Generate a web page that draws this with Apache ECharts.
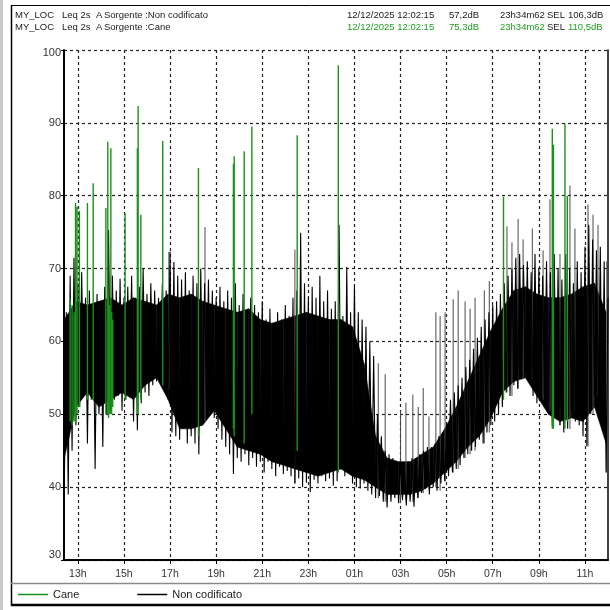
<!DOCTYPE html>
<html>
<head>
<meta charset="utf-8">
<script src="https://cdn.jsdelivr.net/npm/echarts@6/dist/echarts.min.js"></script>
<style>
  html, body { margin: 0; padding: 0; background: #fff; }
  #chart { width: 610px; height: 610px; }
</style>
</head>
<body>
<div id="chart"></div>
<script>
// Leq 2s sound level, 11/12/2025 12:25 -> 12/12/2025 12:00, dB(A)

// x axis: hours of the day (values past 24 belong to the next day)
const hourTicks = [13, 15, 17, 19, 21, 23, 25, 27, 29, 31, 33, 35];
const dbMin = 30, dbMax = 100, dbStep = 10;

// "Non codificato": min/max of the 2 s samples, one pair per 10-minute block
const binStart = '12:25';
const binMinutes = 10;
const nonCodLo = [
  41, 39, 45, 48.5, 51, 52.5, 46, 52, 42.5, 50,
  45.5, 50, 50.5, 52, 52.5, 50.5, 52, 53, 49, 47.8,
  51.5, 53, 52.5, 54, 54.5, 55, 54.5, 53.5, 47.5, 47,
  46.5, 48, 46, 47, 46, 44.5, 49, 50.5, 50, 49.5,
  48, 46.5, 45.5, 44.5, 41.8, 44, 43.5, 44.5, 43, 44,
  42.8, 43.5, 42, 43.5, 42.5, 41.5, 42.8, 41.8, 42.2, 41.5,
  40.5, 41.2, 40, 40.6, 39.3, 41, 40.5, 41.5, 40.8, 41.2,
  40.2, 40.8, 42.5, 41.5, 42, 40.5, 40, 39.8, 40.5, 39.5,
  39, 38.5, 38.8, 38, 37.2, 38, 38.5, 37.8, 38.2, 37.5,
  38, 37.3, 38.5, 39.2, 39.8, 39, 40, 39.5, 40.5, 40.8,
  41.5, 42, 42.5, 43, 44, 44.5, 45, 45.5, 46.5, 46,
  47.5, 48.5, 49, 50, 51, 53, 52.5, 54, 53.5, 55,
  55.8, 54.5, 52.5, 51.5, 52, 51, 50.5, 48.5, 49.5, 48.5,
  47.5, 48, 50.5, 49, 48.5, 47, 45.6, 50, 52.5, 51,
  48.5, 42
];
const nonCodHi = [
  64, 69, 71.5, 68, 69.5, 66, 67, 65, 66.5, 64.5,
  67.5, 75.3, 69, 67, 68.6, 66, 67.5, 69, 66, 67.5,
  70, 66.5, 68, 67, 66, 68, 67, 72.3, 70.9, 69,
  68.5, 69.5, 67, 69, 68, 70, 68, 68.5, 67, 66,
  67.5, 65.5, 67, 66, 68, 65, 66.5, 64, 66, 65,
  64, 65.5, 63, 64.5, 62.5, 64, 63, 65, 63.5, 66,
  67, 74.9, 68, 66, 67.5, 66, 69, 65.5, 67, 64.5,
  65.5, 76, 63.5, 70.2, 64, 67.7, 64, 63, 62, 60,
  58, 50, 47, 45, 44.5, 44, 43.5, 43.5, 43, 43.5,
  44, 44, 44.5, 45, 45.5, 45.5, 46, 47, 47.5, 48.5,
  52, 53, 54, 55, 56.5, 57.5, 59, 60.5, 62, 63,
  64, 65, 65.5, 66.5, 68, 69, 70, 71.5, 72, 70.5,
  71, 69.5, 72, 70, 69, 71, 69.5, 72, 70, 68.5,
  72, 70, 68, 71, 69.5, 73, 76, 74, 72.5, 73,
  71, 66
];

// dense core of the trace, one pair per 30-minute block
const coreStart = '12:25';
const coreMinutes = 30;
const nonCodCoreLo = [
  44, 51, 53, 51, 52, 53, 52, 54, 55, 52,
  48, 48, 48.5, 50.5, 48, 45.5, 45, 44.5, 43.5, 43,
  42.5, 42, 41.5, 42, 42.5, 41.5, 41, 40, 39, 39,
  39, 39.5, 40.5, 42, 43.5, 45.5, 47, 49.5, 53, 54.5,
  55, 52.5, 50, 49, 49.5, 49, 51, 46
];
const nonCodCoreHi = [
  63, 65.5, 65, 65.5, 66, 65, 66, 65.5, 65, 66.5,
  66, 66.5, 65.5, 65, 64.5, 64, 64.5, 63, 62.5, 63,
  63.5, 64, 63.5, 63, 63, 62, 57, 47, 44, 43.5,
  43.5, 44.5, 45.5, 48, 51, 54.5, 58, 61.5, 64.5, 67,
  67.5, 66.5, 66, 66, 66.5, 67.5, 68, 64
];

// isolated short peaks of "Non codificato" above the dense band
const peakTimes = [
  '16:57', '18:31', '22:25', '02:02', '02:20', '03:00', '03:14', '03:32', '03:46', '03:59',
  '04:14', '04:32', '04:43', '04:56', '05:17', '05:30', '05:48', '06:01', '06:14', '06:38',
  '06:51', '07:37', '07:50', '08:06', '08:19', '08:43', '09:11', '09:29', '09:55', '10:21',
  '10:34', '11:08', '11:21', '11:34', '11:57'
];
const peakValues = [
  72.3, 75.7, 72.6, 57, 55.5, 50.5, 51.6, 52.7, 51, 53.6,
  49.7, 64, 63.5, 64, 65.8, 67, 65.5, 64.5, 66, 67,
  68.3, 75.8, 73.6, 76.8, 74, 75.5, 72.5, 79.5, 72, 81.4,
  75.5, 78.8, 77.4, 76, 71
];

// "Cane" events: time, bark peak and the level it rises from
const caneTimes = [
  '12:40', '12:45', '12:50', '12:54', '12:58', '13:04', '13:25', '13:40', '14:13', '14:18',
  '14:20', '14:22', '14:26', '14:28', '14:31', '15:03', '15:35', '15:37', '15:44', '16:41',
  '18:14', '19:45', '19:47', '20:13', '20:33', '22:31', '00:18', '07:28', '09:35', '09:38',
  '10:08', '10:14'
];
const canePeaks = [
  66, 65, 64, 79, 78.5, 77.9, 79, 81.7, 78.3, 87.4,
  66, 65, 86.5, 64, 63, 77.6, 86.5, 92.3, 77.4, 87.5,
  83.8, 84.4, 85.4, 86.1, 89.5, 88.3, 97.9, 79.9, 89.2, 87,
  89.9, 80
];
const caneBases = [
  49, 48.5, 49, 49, 50, 51, 52, 52, 50, 50,
  49.5, 50, 50, 50, 51, 52, 50, 50, 52, 54,
  47, 48, 47, 46, 50, 45, 42, 52, 48, 48,
  48, 49
];

// ---- helpers ----
const toHours = s => {
  const [h, m] = s.split(':').map(Number);
  let v = h + m / 60;
  if (v < 12.4) v += 24;
  return v;
};
const t0 = toHours(binStart);
const step = binMinutes / 60;
const half = step / 2;
const binOf = t => Math.max(0, Math.min(nonCodLo.length - 1, Math.floor((t - t0) / step)));

// zig-zag trace through the block minima and maxima
const nonCodData = [];
nonCodLo.forEach((lo, k) => {
  nonCodData.push([t0 + k * step, lo]);
  nonCodData.push([t0 + k * step + half, nonCodHi[k]]);
});

// solid core between consecutive blocks: [t, lo, hi, tNext, loNext, hiNext]
const c0 = toHours(coreStart);
const cStep = coreMinutes / 60;
const coreData = nonCodCoreLo.slice(0, -1).map((lo, k) =>
  [c0 + k * cStep, lo, nonCodCoreHi[k], c0 + (k + 1) * cStep, nonCodCoreLo[k + 1], nonCodCoreHi[k + 1]]
);

const peakData = [];
peakTimes.forEach((s, i) => {
  const t = toHours(s);
  peakData.push([t, nonCodLo[binOf(t)]], [t, peakValues[i]], [t, '-']);
});

const caneData = [];
caneTimes.forEach((s, i) => {
  const t = toHours(s);
  caneData.push([t, caneBases[i]], [t, canePeaks[i]], [t, '-']);
});

const GREEN = '#1d8f1d';
const TXT_GREEN = '#22a022';
const font = 'Liberation Sans, Arial, sans-serif';

function headerText(x, y, text, color) {
  return {
    type: 'text', x: x, y: y,
    style: { text: text, fill: color || '#1a1a1a', font: '9.5px ' + font, textVerticalAlign: 'middle' }
  };
}

function renderCore(params, api) {
  const a = api.coord([api.value(0), api.value(1)]);
  const b = api.coord([api.value(3), api.value(4)]);
  const c = api.coord([api.value(3), api.value(5)]);
  const d = api.coord([api.value(0), api.value(2)]);
  return {
    type: 'polygon',
    shape: { points: [a, b, c, d] },
    style: { fill: '#000', stroke: '#000', lineWidth: 0.5 },
    silent: true
  };
}

const chart = echarts.init(document.getElementById('chart'), null, { renderer: 'canvas' });
chart.setOption({
  animation: false,
  backgroundColor: '#fff',
  textStyle: { fontFamily: font },
  grid: { left: 64, right: 2, top: 50, bottom: 50, containLabel: false },
  legend: {
    left: 18, top: 589, padding: 0,
    icon: 'rect', itemWidth: 30, itemHeight: 1.5, itemGap: 58,
    textStyle: { fontSize: 11, color: '#222', fontFamily: font },
    data: [
      { name: 'Cane', itemStyle: { color: GREEN } },
      { name: 'Non codificato', itemStyle: { color: '#000' } }
    ]
  },
  xAxis: {
    type: 'value', min: 12.4, max: 36.0,
    axisLine: { show: true, lineStyle: { color: '#000', width: 2 } },
    axisTick: { show: true, length: 4, customValues: hourTicks, lineStyle: { color: '#000' } },
    axisLabel: {
      customValues: hourTicks, margin: 9, fontSize: 10.5, color: '#333', fontFamily: font,
      formatter: v => String(Math.round(v) % 24).padStart(2, '0') + 'h'
    },
    splitLine: { show: true, lineStyle: { color: '#222', width: 1.2, type: [3, 3] } }
  },
  yAxis: [
    {
      type: 'value', min: dbMin, max: dbMax, interval: dbStep,
      axisLine: { show: true, lineStyle: { color: '#000', width: 2 } },
      axisTick: { show: true, length: 3, lineStyle: { color: '#000' } },
      axisLabel: {
        margin: 3, fontSize: 11, color: '#333', fontFamily: font, showMinLabel: true, showMaxLabel: true,
        formatter: v => v === dbMax ? '{top|' + v + '}' : v === dbMin ? '{bot|' + v + '}' : String(v),
        rich: {
          top: { fontSize: 11, color: '#333', padding: [6, 0, 0, 0] },
          bot: { fontSize: 11, color: '#333', padding: [0, 0, 10, 0] }
        }
      },
      splitLine: { show: true, lineStyle: { color: '#222', width: 1.2, type: [3, 3] } }
    },
    {
      type: 'value', min: dbMin, max: dbMax, interval: dbStep, position: 'right',
      axisLine: { show: true, lineStyle: { color: '#000', width: 1.5 } },
      axisTick: { show: false }, axisLabel: { show: false }, splitLine: { show: false }
    }
  ],
  series: [
    {
      name: 'Non codificato', type: 'line', data: peakData, z: 2,
      showSymbol: false, connectNulls: false, silent: true,
      lineStyle: { color: '#4a4a4a', width: 1 }, itemStyle: { color: '#000' }
    },
    {
      name: 'core', type: 'custom', data: coreData, z: 2, silent: true,
      renderItem: renderCore,
      encode: { x: [0, 3], y: [1, 2, 4, 5] },
      clip: true
    },
    {
      name: 'Non codificato', type: 'line', data: nonCodData, z: 3,
      showSymbol: false, silent: true,
      lineStyle: { color: '#000', width: 1.1 }, itemStyle: { color: '#000' }
    },
    {
      name: 'Cane', type: 'line', data: caneData, z: 4,
      showSymbol: false, connectNulls: false, silent: true,
      lineStyle: { color: GREEN, width: 1.4 }, itemStyle: { color: GREEN }
    }
  ],
  graphic: [
    { type: 'rect', shape: { x: 0, y: 0, width: 3, height: 610 }, style: { fill: '#c9c9c9' } },
    { type: 'line', shape: { x1: 11.5, y1: 5, x2: 11.5, y2: 606 }, style: { stroke: '#000', lineWidth: 1.5 } },
    { type: 'line', shape: { x1: 11, y1: 5.5, x2: 610, y2: 5.5 }, style: { stroke: '#000', lineWidth: 1 } },
    { type: 'line', shape: { x1: 11, y1: 605, x2: 610, y2: 605 }, style: { stroke: '#000', lineWidth: 2.5 } },
    { type: 'line', shape: { x1: 11, y1: 583.5, x2: 610, y2: 583.5 }, style: { stroke: '#8a8a8a', lineWidth: 1.5 } },
    headerText(15, 15, 'MY_LOC'),
    headerText(62, 15, 'Leq 2s'),
    headerText(96, 15, 'A'),
    headerText(104, 15, 'Sorgente :Non codificato'),
    headerText(347, 15, '12/12/2025 12:02:15'),
    headerText(449, 15, '57,2dB'),
    headerText(500, 15, '23h34m62'),
    headerText(547, 15, 'SEL'),
    headerText(568, 15, '106,3dB'),
    headerText(15, 27, 'MY_LOC'),
    headerText(62, 27, 'Leq 2s'),
    headerText(96, 27, 'A'),
    headerText(104, 27, 'Sorgente :Cane'),
    headerText(347, 27, '12/12/2025 12:02:15', TXT_GREEN),
    headerText(449, 27, '75,3dB', TXT_GREEN),
    headerText(500, 27, '23h34m62', TXT_GREEN),
    headerText(547, 27, 'SEL'),
    headerText(568, 27, '110,5dB', TXT_GREEN)
  ]
});
</script>
</body>
</html>
